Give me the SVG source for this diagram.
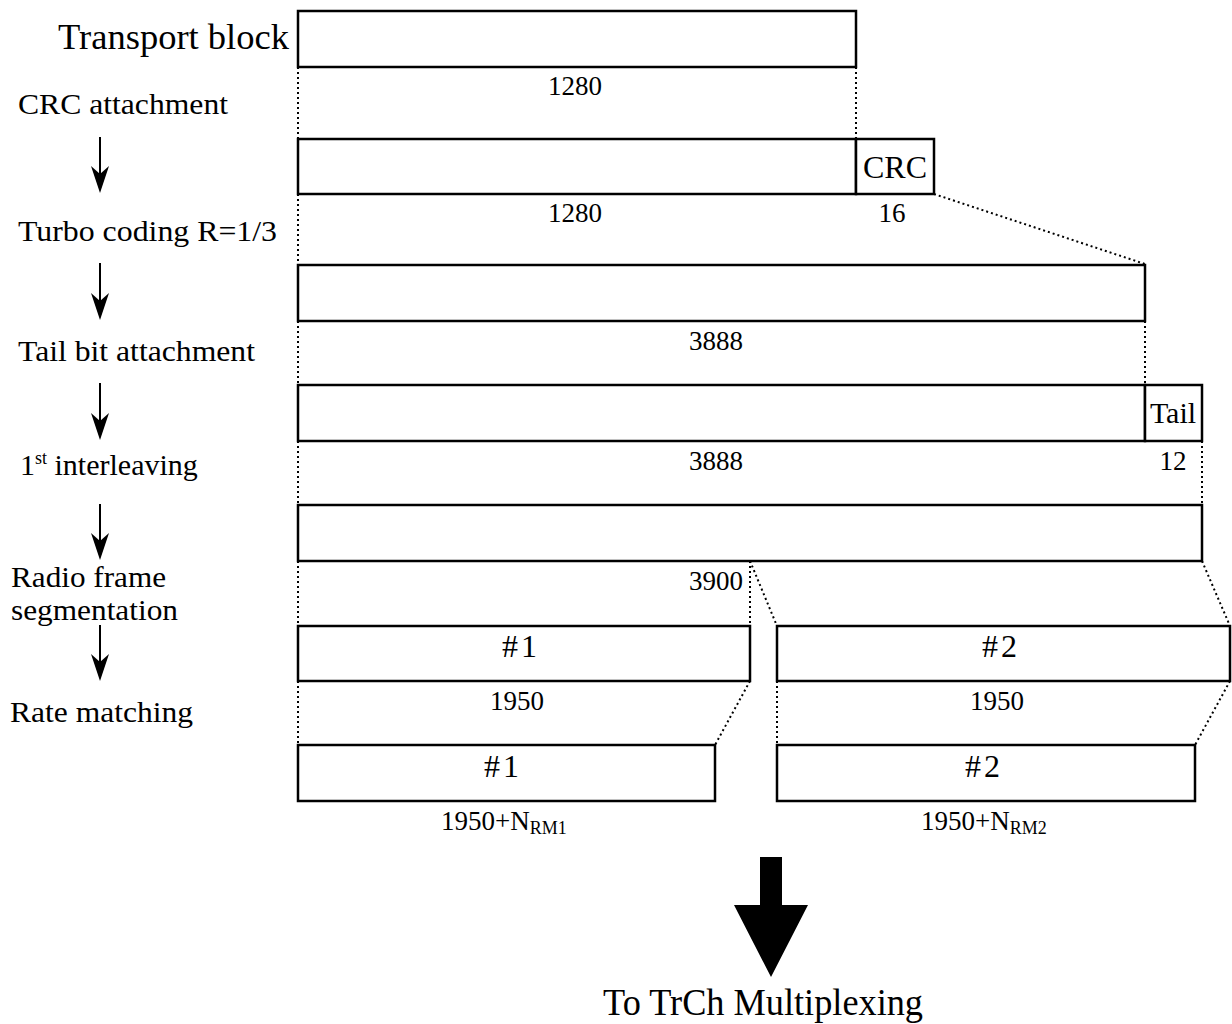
<svg xmlns="http://www.w3.org/2000/svg" width="1232" height="1024" viewBox="0 0 1232 1024">
<style>
text{font-family:"Liberation Serif","Times New Roman",serif;fill:#000}
.box{fill:#fff;stroke:#000;stroke-width:2.5}
.dot{fill:none;stroke:#000;stroke-width:2;stroke-dasharray:2 3}
.lbl{font-size:30px}
.num{font-size:27px;text-anchor:middle}
.in{font-size:32px;text-anchor:middle}
.seg{font-size:32px;text-anchor:middle;letter-spacing:3px}
.arr{stroke:#000;stroke-width:2;fill:none}
</style>
<rect width="1232" height="1024" fill="#fff"/>
<g id="connectors">
<path class="dot" d="M298,67V139M856,67V139M298,194V264M934,194L1145,264M298,321V385M1145,321V385M298,441V505M1202,441V505M298,561V626M750,561V626M750,561L777,626M1202,561L1230,626M298,681V745M750,681L715,745M777,681V745M1230,681L1195,745"/>
<g id="step-arrows">
<path class="arr" d="M100,137V180M100,263V306M100,383V426M100,504V547M100,625V668"/>
<path d="M100,193L91,166L100,174L109,166Z M100,320L91,293L100,301L109,293Z M100,440L91,413L100,421L109,413Z M100,560L91,533L100,541L109,533Z M100,681L91,654L100,662L109,654Z" fill="#000"/>
</g>
<path id="big-arrow" d="M760,857H782V905H808L771,977L734,905H760Z" fill="#000"/>
</g>
<g id="labels">
<text x="58" y="49" font-size="36" textLength="231" lengthAdjust="spacingAndGlyphs">Transport block</text>
<text class="lbl" x="18" y="114" textLength="210" lengthAdjust="spacingAndGlyphs">CRC attachment</text>
<text class="lbl" x="18" y="241" textLength="259" lengthAdjust="spacingAndGlyphs">Turbo coding R=1/3</text>
<text class="lbl" x="18" y="361" textLength="237" lengthAdjust="spacingAndGlyphs">Tail bit attachment</text>
<text class="lbl" x="20" y="475">1<tspan font-size="18" dy="-11">st</tspan><tspan dy="11"> interleaving</tspan></text>
<text class="lbl" x="11" y="587" textLength="155" lengthAdjust="spacingAndGlyphs">Radio frame</text>
<text class="lbl" x="11" y="620" textLength="167" lengthAdjust="spacingAndGlyphs">segmentation</text>
<text class="lbl" x="10" y="722" textLength="183" lengthAdjust="spacingAndGlyphs">Rate matching</text>
<text x="603" y="1015" font-size="38" textLength="320" lengthAdjust="spacingAndGlyphs">To TrCh Multiplexing</text>
</g>
<g id="transport-block"><rect class="box" x="298" y="11" width="558" height="56"/><text class="num" x="575" y="95">1280</text></g>
<g id="crc-attached"><rect class="box" x="298" y="139" width="558" height="55"/><text class="num" x="575" y="222">1280</text></g>
<g id="crc"><rect class="box" x="856" y="139" width="78" height="55"/><text class="in" x="895" y="178">CRC</text><text class="num" x="892" y="222">16</text></g>
<g id="turbo-coded"><rect class="box" x="298" y="265" width="847" height="56"/><text class="num" x="716" y="350">3888</text></g>
<g id="tail-attached"><rect class="box" x="298" y="385" width="847" height="56"/><text class="num" x="716" y="470">3888</text></g>
<g id="tail"><rect class="box" x="1145" y="385" width="57" height="56"/><text x="1173" y="423" font-size="30" text-anchor="middle">Tail</text><text class="num" x="1173" y="470">12</text></g>
<g id="interleaved"><rect class="box" x="298" y="505" width="904" height="56"/><text class="num" x="716" y="590">3900</text></g>
<g id="seg1"><rect class="box" x="298" y="626" width="452" height="55"/><text class="seg" x="521" y="657">#1</text><text class="num" x="517" y="710">1950</text></g>
<g id="seg2"><rect class="box" x="777" y="626" width="453" height="55"/><text class="seg" x="1001" y="657">#2</text><text class="num" x="997" y="710">1950</text></g>
<g id="rm1"><rect class="box" x="298" y="745" width="417" height="56"/><text class="seg" x="503" y="777">#1</text><text x="441" y="830" font-size="27">1950+N<tspan font-size="18" dy="4">RM1</tspan></text></g>
<g id="rm2"><rect class="box" x="777" y="745" width="418" height="56"/><text class="seg" x="984" y="777">#2</text><text x="921" y="830" font-size="27">1950+N<tspan font-size="18" dy="4">RM2</tspan></text></g>
</svg>
